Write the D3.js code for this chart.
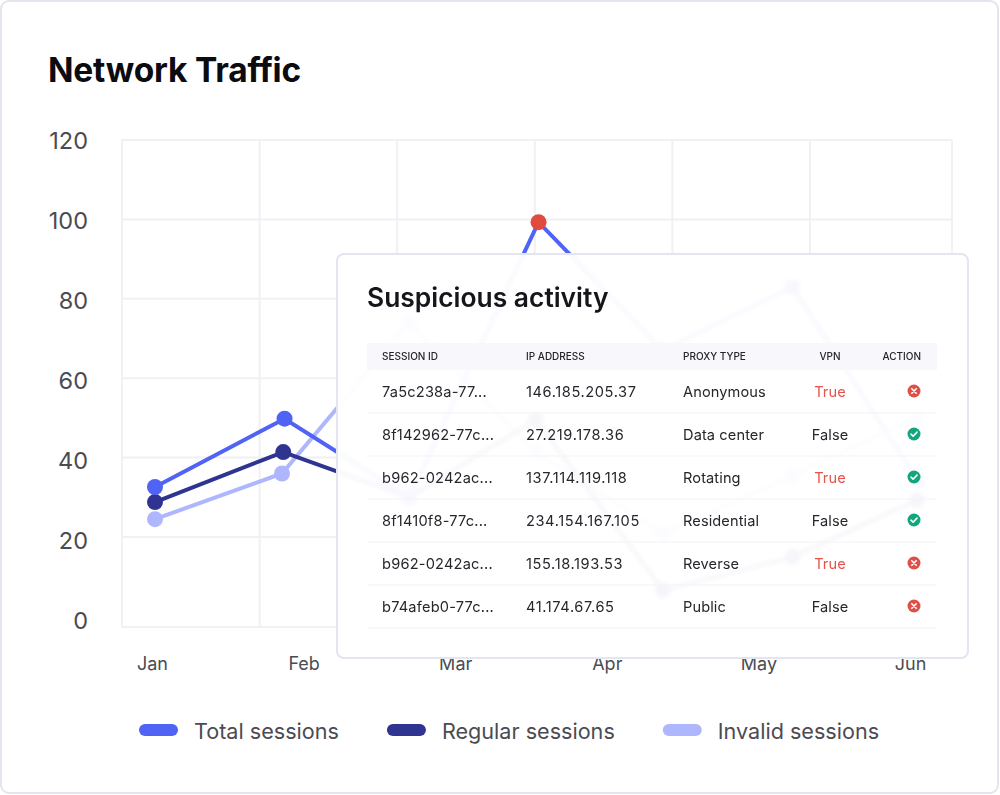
<!DOCTYPE html>
<html>
<head>
<meta charset="utf-8">
<title>Network Traffic</title>
<script src="https://cdn.jsdelivr.net/npm/d3@7"></script>
<style>
  html, body { margin: 0; padding: 0; background: #fff; }
  body { position: relative; width: 1000px; height: 795px; overflow: hidden; font-family: Inter, "Noto Sans", sans-serif; }
  svg { position: absolute; left: 0; top: 0; }
  #panel {
    position: absolute; left: 336px; top: 253px; width: 629px; height: 402px;
    border: 2px solid #e3e5f1; border-radius: 8px;
    background: rgba(255, 255, 255, 0.955);
    backdrop-filter: blur(2.2px);
  }
</style>
</head>
<body>
<svg id="chart" width="1000" height="795"></svg>
<div id="panel"></div>
<svg id="table" width="1000" height="795"></svg>
<script>
'use strict';

// chart data
const months = ['Jan', 'Feb', 'Mar', 'Apr', 'May', 'Jun'];
const yTicks = [0, 20, 40, 60, 80, 100, 120];
const gridSteps = [0, 1, 2, 3, 4, 5];

const totalSteps = [0, 1.02, 2, 3.02, 4, 5.02, 6];
const regularSteps = [0, 1.01, 2, 3, 4, 5.02, 6];
const invalidSteps = [0, 1, 2, 3, 4, 5.02, 6];

const totalSessions = [32.6, 49.8, 30, 99.3, 67, 83, 34.4];
const regularSessions = [28.8, 41.4, 30, 49.5, 6.6, 15, 29.3];
const invalidSessions = [24.5, 36, 74, 41.4, 20.8, 35.4, 50];

const seriesNames = ['Total sessions', 'Regular sessions', 'Invalid sessions'];
const seriesColors = ['#4f63f5', '#2e3490', '#aeb6fd'];

// table data
const tableHeaders = ['SESSION ID', 'IP ADDRESS', 'PROXY TYPE', 'VPN', 'ACTION'];
const sessionIds = ['7a5c238a-77...', '8f142962-77c...', 'b962-0242ac...', '8f1410f8-77c...', 'b962-0242ac...', 'b74afeb0-77c...'];
const ipAddresses = ['146.185.205.37', '27.219.178.36', '137.114.119.118', '234.154.167.105', '155.18.193.53', '41.174.67.65'];
const proxyTypes = ['Anonymous', 'Data center', 'Rotating', 'Residential', 'Reverse', 'Public'];
const vpnFlags = ['True', 'False', 'True', 'False', 'True', 'False'];
const actions = ['block', 'allow', 'allow', 'allow', 'block', 'block'];

const GRID = '#f0f0f5';
const TEXT = '#4b4b52';
const PEAK = '#e04b40';

const chart = d3.select('#chart');

// outer card
chart.append('rect')
  .attr('x', 1).attr('y', 1).attr('width', 997).attr('height', 792).attr('rx', 8)
  .attr('fill', '#fff').attr('stroke', '#e2e5ee').attr('stroke-width', 2);

chart.append('text')
  .attr('x', 48).attr('y', 82)
  .attr('font-size', 33.5).attr('font-weight', 700).attr('letter-spacing', '-0.2')
  .attr('fill', '#0b0b10')
  .text('Network Traffic');

// scales
const y = d3.scaleLinear().domain([0, 120]).range([616.4, 140]);
const yLabel = d3.scaleLinear().domain([0, 120]).range([620.5, 140.5]);
const xGrid = d3.scaleLinear().domain([0, 5]).range([122, 810]);
const xStep = d3.scaleLinear().domain([0, 6]).range([155, 917]);
const xMonth = d3.scalePoint().domain(months).range([152, 910]);

// grid
const grid = chart.append('g').attr('fill', 'none').attr('stroke', GRID).attr('stroke-width', 2);

grid.selectAll('line.h')
  .data(yTicks.filter(d => d > 0))
  .join('line')
  .attr('class', 'h')
  .attr('x1', 121).attr('x2', 952)
  .attr('y1', d => y(d)).attr('y2', d => y(d));

grid.selectAll('line.v')
  .data(gridSteps)
  .join('line')
  .attr('class', 'v')
  .attr('x1', d => xGrid(d)).attr('x2', d => xGrid(d))
  .attr('y1', 140).attr('y2', 627);

grid.append('path').attr('d', 'M952,140V627H121');

// axes, labels only
const yAxis = chart.append('g')
  .attr('transform', 'translate(88,0)')
  .call(d3.axisLeft(yLabel).tickValues(yTicks).tickSize(0).tickPadding(0));

const xAxis = chart.append('g')
  .attr('transform', 'translate(0,657)')
  .call(d3.axisBottom(xMonth).tickSize(0).tickPadding(0));

yAxis.select('.domain').remove();
xAxis.select('.domain').remove();
yAxis.selectAll('text').attr('font-family', 'Inter').attr('font-size', 23.5).attr('fill', TEXT);
xAxis.selectAll('text').attr('font-family', 'Inter').attr('font-size', 18).attr('fill', TEXT);

// series, drawn back to front
const series = [
  { name: seriesNames[2], color: seriesColors[2], steps: invalidSteps, values: invalidSessions },
  { name: seriesNames[1], color: seriesColors[1], steps: regularSteps, values: regularSessions },
  { name: seriesNames[0], color: seriesColors[0], steps: totalSteps, values: totalSessions }
];

const peakValue = d3.max(totalSessions);

const seriesGroup = chart.selectAll('g.series')
  .data(series)
  .join('g')
  .attr('class', 'series');

seriesGroup.append('path')
  .attr('fill', 'none')
  .attr('stroke', d => d.color)
  .attr('stroke-width', 4)
  .attr('d', d => d3.line()
    .x((v, i) => xStep(d.steps[i]))
    .y(v => y(v))(d.values));

seriesGroup.selectAll('circle')
  .data(d => d.values.map((v, i) => ({ v, step: d.steps[i], color: d.color })))
  .join('circle')
  .attr('r', 8)
  .attr('cx', d => xStep(d.step))
  .attr('cy', d => y(d.v))
  .attr('fill', d => d.v === peakValue ? PEAK : d.color);

// legend, flows from the left by measured label width
let legendX = 139;
const legend = chart.append('g');
seriesNames.forEach((name, i) => {
  legend.append('rect')
    .attr('x', legendX).attr('y', 724).attr('width', 39).attr('height', 12).attr('rx', 6)
    .attr('fill', seriesColors[i]);
  const label = legend.append('text')
    .attr('x', legendX + 55).attr('y', 738.5)
    .attr('font-size', 21.6).attr('fill', TEXT)
    .text(name);
  legendX += 55 + label.node().getComputedTextLength() + 48;
});

// suspicious activity table
const table = d3.select('#table');

table.append('text')
  .attr('x', 367).attr('y', 307)
  .attr('font-size', 26.4).attr('font-weight', 600).attr('fill', '#15151b')
  .text('Suspicious activity');

table.append('rect')
  .attr('x', 367).attr('y', 343).attr('width', 570).attr('height', 27)
  .attr('fill', '#f7f7fc');

const colX = [382, 526, 683, 830, 921];
const colAnchor = ['start', 'start', 'start', 'middle', 'end'];
const colSpacing = [0.2, 0.6, 0.1, 0.1];

table.selectAll('text.head')
  .data(tableHeaders)
  .join('text')
  .attr('class', 'head')
  .attr('x', (d, i) => colX[i])
  .attr('y', 360)
  .attr('text-anchor', (d, i) => colAnchor[i])
  .attr('font-size', 10).attr('font-weight', 500).attr('fill', '#24242b')
  .text(d => d);

const rowY = d3.scaleBand().domain(d3.range(sessionIds.length)).range([370, 628]);

const rows = table.selectAll('g.row')
  .data(d3.range(sessionIds.length))
  .join('g')
  .attr('class', 'row')
  .attr('transform', d => `translate(0,${rowY(d)})`);

rows.append('line')
  .attr('x1', 367).attr('x2', 937)
  .attr('y1', rowY.bandwidth()).attr('y2', rowY.bandwidth())
  .attr('stroke', '#f3f3f8');

const cellColumns = [sessionIds, ipAddresses, proxyTypes, vpnFlags];

cellColumns.forEach((column, c) => {
  rows.append('text')
    .attr('x', colX[c])
    .attr('y', rowY.bandwidth() / 2 + 5)
    .attr('text-anchor', colAnchor[c])
    .attr('font-size', 14.6)
    .attr('letter-spacing', colSpacing[c])
    .attr('fill', d => column[d] === 'True' ? '#e5534b' : '#26262c')
    .text(d => column[d]);
});

// action icons
const icons = rows.append('g')
  .attr('transform', `translate(914,${rowY.bandwidth() / 2 - 0.5})`);

icons.append('circle')
  .attr('r', 6.5)
  .attr('fill', d => actions[d] === 'allow' ? '#12a67f' : '#e0504a');

icons.append('path')
  .attr('fill', 'none')
  .attr('stroke', '#fff')
  .attr('stroke-width', 1.6)
  .attr('stroke-linecap', 'round')
  .attr('stroke-linejoin', 'round')
  .attr('d', d => actions[d] === 'allow' ? 'M-3,0.2L-0.9,2.2L3,-1.9' : 'M-2.2,-2.2L2.2,2.2M2.2,-2.2L-2.2,2.2');
</script>
</body>
</html>
